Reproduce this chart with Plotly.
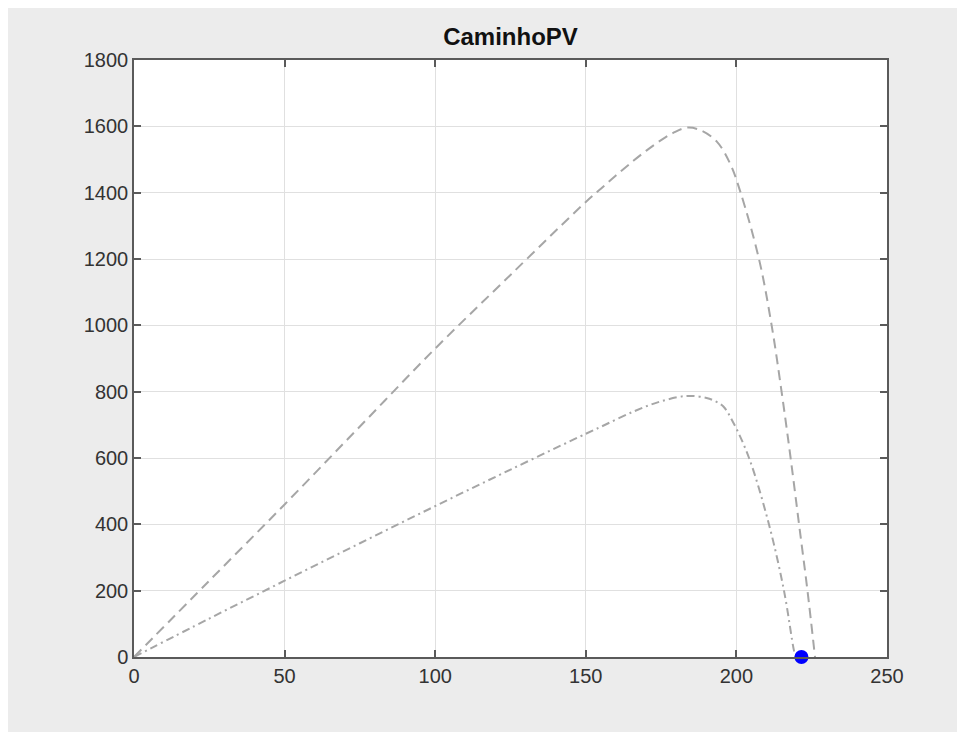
import plotly.graph_objects as go

# Data (V, P)
v_dash = [0, 25, 50, 75, 100, 125, 150, 155, 160, 165.8, 170, 174.6, 179, 183.5,
          187.9, 193.5, 197.9, 201.4, 207.5, 211.7, 215, 218, 220.8, 223.6, 226.1]
p_dash = [0, 230, 460, 695, 930, 1152, 1372, 1412, 1452, 1496, 1526, 1556, 1580, 1596,
          1589, 1554, 1488, 1400, 1200, 1000, 800, 600, 400, 200, 0]

v_dashdot = [0, 25, 50, 75, 100, 125, 150, 155, 165.8, 174.6, 183.5, 190.1, 193,
             195.6, 198.9, 204.2, 210.8, 215.8, 219.1, 219.7]
p_dashdot = [0, 116, 230, 343, 455, 565, 673, 694, 740, 770, 787, 781, 771,
             756, 708, 600, 400, 200, 20, 0]

point_v = [221.6]
point_p = [0]

title_text = "CaminhoPV"
x_ticks = [0, 50, 100, 150, 200, 250]
y_ticks = [0, 200, 400, 600, 800, 1000, 1200, 1400, 1600, 1800]

# The page body adds an 8px offset; figure sized to fill the rest of the window
OFF = 8
W, H = 965 - OFF, 732 - OFF
L, R, T, B = 134 - OFF, 887 - OFF, 60 - OFF, 657 - OFF

fig = go.Figure()
fig.add_trace(go.Scatter(x=v_dash, y=p_dash, mode="lines", line_shape="spline",
                         line=dict(color="#a6a6a6", width=2, dash="10px,6px"),
                         showlegend=False, hoverinfo="skip"))
fig.add_trace(go.Scatter(x=v_dashdot, y=p_dashdot, mode="lines", line_shape="spline",
                         line=dict(color="#a6a6a6", width=2, dash="8px,4px,2px,4px"),
                         showlegend=False, hoverinfo="skip"))
fig.add_trace(go.Scatter(x=point_v, y=point_p, mode="markers", cliponaxis=False,
                         marker=dict(color="#0000ff", size=14, line=dict(width=0)),
                         showlegend=False, hoverinfo="skip"))

axis_common = dict(showline=True, linecolor="#5a5a5a", linewidth=1.5, mirror="ticks",
                   ticks="inside", ticklen=7, tickcolor="#5a5a5a", tickwidth=1.5,
                   showgrid=True, gridcolor="#e0e0e0", gridwidth=1, zeroline=False,
                   tickfont=dict(family="Liberation Sans, Arial", size=20, color="#333333"))

fig.update_layout(
    width=W, height=H,
    margin=dict(l=L, r=W - R, t=T, b=H - B),
    paper_bgcolor="#ececec", plot_bgcolor="white",
    title=dict(text="<b>" + title_text + "</b>", x=(L + R) / 2 / W, xanchor="center",
               y=1 - 29 / H, yanchor="middle",
               font=dict(family="Liberation Sans, Arial", size=24, color="#111111")),
    xaxis=dict(range=[0, 250], tickvals=x_ticks, ticktext=[str(t) for t in x_ticks], **axis_common),
    yaxis=dict(range=[0, 1800], tickvals=y_ticks, ticktext=[str(t) for t in y_ticks], **axis_common),
)

fig.write_html("out.html")
